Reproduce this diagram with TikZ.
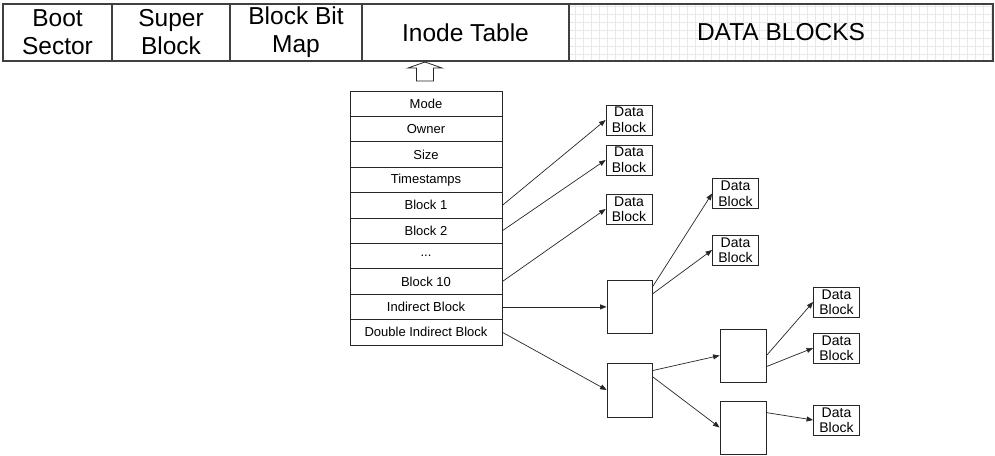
\documentclass[tikz,border=0pt]{standalone}
\usepackage{fontspec}
\setmainfont{Liberation Sans}
\usetikzlibrary{arrows.meta,calc}
\begin{document}
\begin{tikzpicture}[x=1pt,y=-1pt,
 bar/.style={draw=black!75, line width=1.4pt, font=\fontsize{24.5}{28}\selectfont, align=center, inner sep=0pt},
 row/.style={draw=black!85, line width=0.8pt, minimum width=152pt, minimum height=25.4pt, inner sep=0pt, font=\fontsize{13}{15}\selectfont},
 dblk/.style={draw=black!85, line width=0.8pt, minimum width=46pt, minimum height=30pt, inner sep=0pt, align=center, font=\fontsize{14}{15.5}\selectfont},
 iblk/.style={draw=black!85, line width=0.8pt, minimum width=45pt, minimum height=53pt, inner sep=0pt},
 ptr/.style={draw=black!85, line width=0.7pt, -{Triangle[length=6.5pt,width=5pt]}},
 gridline/.style={draw=black!9, line width=0.8pt}
]
\useasboundingbox (0,0) rectangle (995,455);
% grid behind DATA BLOCKS
\foreach \gx in {575,583,...,991} \draw[gridline] (\gx,4) -- (\gx,61);
\foreach \gy in {6,14,...,54} \draw[gridline] (569,\gy) -- (993,\gy);
% top bar
\node[bar, minimum width=109pt, minimum height=57pt] (boot) at (57.5,32.5) {Boot\\Sector};
\node[bar, minimum width=118pt, minimum height=57pt] (super) at (171,32.5) {Super\\Block};
\node[bar, minimum width=132pt, minimum height=57pt] (bmap) at (296,32.5) {Block Bit\\Map};
\node[bar, minimum width=207pt, minimum height=57pt] (itab) at (465.5,32.5) {Inode Table};
\node[bar, minimum width=424pt, minimum height=57pt] (dblocks) at (781,32.5) {DATA BLOCKS};
% hollow up arrow
\draw[line width=0.8pt, draw=black!85] (425,62) -- (442,68) -- (433.5,68) -- (433.5,81) -- (416.5,81) -- (416.5,68) -- (408,68) -- cycle;
% inode rows
\node[row] (mode) at (426,103.7) {Mode};
\node[row] (owner) at (426,129.1) {Owner};
\node[row] (size) at (426,154.5) {Size};
\node[row] (ts) at (426,179.9) {Timestamps};
\node[row] (b1) at (426,205.3) {Block 1};
\node[row] (b2) at (426,230.7) {Block 2};
\node[row] (dots) at (426,256.1) {...};
\node[row] (b10) at (426,281.5) {Block 10};
\node[row] (indr) at (426,306.9) {Indirect Block};
\node[row] (dblr) at (426,332.3) {Double Indirect Block};
% data blocks
\node[dblk] (d1) at (629,120) {Data\\Block};
\node[dblk] (d2) at (629,160) {Data\\Block};
\node[dblk] (d3) at (629,209) {Data\\Block};
\node[dblk] (d4) at (735.5,193.5) {Data\\Block};
\node[dblk] (d5) at (735.5,250) {Data\\Block};
\node[dblk] (d6) at (836.5,302) {Data\\Block};
\node[dblk] (d7) at (836.5,348) {Data\\Block};
\node[dblk] (d8) at (836.5,420) {Data\\Block};
% indirect blocks
\node[iblk] (ind) at (629.5,306.9) {};
\node[iblk, minimum height=54pt] (dbl) at (629.5,390) {};
\node[iblk, minimum width=46pt] (s1) at (743,355.5) {};
\node[iblk, minimum width=46pt] (s2) at (743,427.5) {};
% pointers
\draw[ptr] (b1.east) -- (d1.west);
\draw[ptr] (b2.east) -- (d2.west);
\draw[ptr] (b10.east) -- (d3.west);
\draw[ptr] (indr.east) -- (ind.west);
\draw[ptr] (dblr.east) -- (dbl.west);
\draw[ptr] ($(ind.north east)+(0,7)$) -- (d4.west);
\draw[ptr] ($(ind.north east)+(0,14)$) -- (d5.west);
\draw[ptr] ($(dbl.north east)+(0,8)$) -- (s1.west);
\draw[ptr] ($(dbl.north east)+(0,14)$) -- (s2.west);
\draw[ptr] ($(s1.north east)+(0,27)$) -- (d6.west);
\draw[ptr] ($(s1.north east)+(0,38)$) -- (d7.west);
\draw[ptr] ($(s2.north east)+(0,12)$) -- (d8.west);
\end{tikzpicture}
\end{document}
